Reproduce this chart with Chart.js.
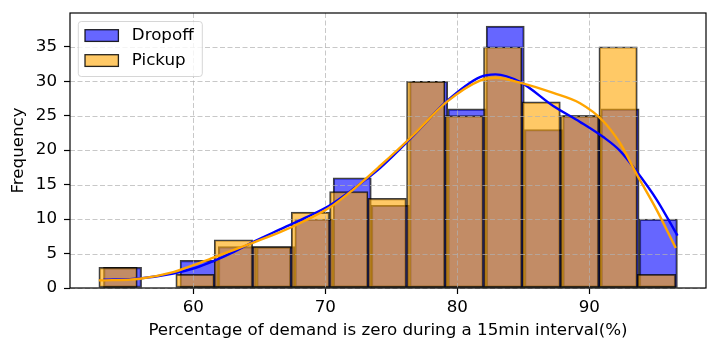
<!DOCTYPE html>
<html>
<head>
<meta charset="utf-8">
<script src="https://cdn.jsdelivr.net/npm/chart.js@4.4.1/dist/chart.umd.min.js"></script>
<style>
  body { margin: 0; background: #fff; }
  canvas { display: block; }
</style>
</head>
<body>
<canvas id="myChart" width="718" height="353"></canvas>
<script>
// histogram bin centres (each series has its own bins)
var dropoffBins = [54.64, 57.54, 60.44, 63.34, 66.24, 69.14, 72.04, 74.93, 77.83, 80.73, 83.63, 86.53, 89.43, 92.33, 95.23];
var pickupBins = [54.30, 57.21, 60.13, 63.04, 65.95, 68.87, 71.78, 74.69, 77.61, 80.52, 83.44, 86.35, 89.26, 92.18, 95.09];

var dropoffCounts = [3, 0, 4, 6, 6, 10, 16, 12, 30, 26, 38, 23, 25, 26, 10];
var pickupCounts = [3, 0, 2, 7, 6, 11, 14, 13, 30, 25, 35, 27, 25, 35, 2];

// kde curves
var dropoffKdeX = [53.19, 55.96, 58.48, 60.13, 61.52, 63.03, 64.55, 66.57, 68.5, 70.36, 72.0, 74.14, 76.67, 79.2, 81.72, 82.9, 84.75, 87.27, 89.3, 91.06, 92.33, 93.59, 95.11, 96.68];
var dropoffKde = [1.2, 1.4, 2.1, 2.9, 3.9, 5.2, 6.7, 8.5, 10.2, 12.0, 14.2, 17.4, 22.1, 27.1, 30.6, 31.0, 29.9, 26.4, 24.1, 21.9, 19.9, 16.9, 12.8, 7.6];
var pickupKdeX = [52.84, 55.96, 58.48, 60.13, 61.52, 63.03, 64.55, 66.57, 68.5, 70.36, 72.0, 74.14, 76.67, 79.2, 81.72, 82.9, 84.75, 87.27, 89.3, 91.06, 92.33, 93.59, 95.11, 96.55];
var pickupKde = [1.1, 1.35, 2.3, 3.4, 4.4, 5.5, 6.6, 8.1, 9.8, 11.7, 14.1, 17.7, 22.2, 27.0, 30.1, 30.5, 29.8, 28.3, 26.8, 24.2, 21.0, 16.5, 11.3, 5.8];

var xTicks = [60, 70, 80, 90];
var yTicks = [0, 5, 10, 15, 20, 25, 30, 35];

var seriesNames = ["Dropoff", "Pickup"];
var seriesFill = ["rgba(0, 0, 255, 0.6)", "rgba(255, 165, 0, 0.6)"];
var seriesLine = ["#0000ff", "#ffa500"];

var FONT = { family: "'DejaVu Sans', sans-serif", size: 16.7 };

function points(xs, ys) {
  return xs.map((x, i) => ({ x: x, y: ys[i] }));
}

// grid sits above the bars but below the kde lines, like matplotlib
var gridOverBars = {
  id: "gridOverBars",
  beforeDatasetDraw(chart, args) {
    if (args.index !== 2) return;
    var ctx = chart.ctx, a = chart.chartArea;
    var x = chart.scales.x, y = chart.scales.y;
    ctx.save();
    ctx.strokeStyle = "rgba(176, 176, 176, 0.7)";
    ctx.lineWidth = 1;
    ctx.setLineDash([5, 2.5]);
    ctx.beginPath();
    xTicks.forEach(v => {
      var px = Math.round(x.getPixelForValue(v)) + 0.5;
      ctx.moveTo(px, a.top);
      ctx.lineTo(px, a.bottom);
    });
    yTicks.forEach(v => {
      var py = Math.round(y.getPixelForValue(v)) + 0.5;
      ctx.moveTo(a.left, py);
      ctx.lineTo(a.right, py);
    });
    ctx.stroke();
    ctx.restore();
  },
  afterDatasetsDraw(chart) {
    var ctx = chart.ctx, a = chart.chartArea;
    ctx.save();
    ctx.strokeStyle = "#000";
    ctx.lineWidth = 1.2;
    ctx.strokeRect(a.left, a.top, a.right - a.left, a.bottom - a.top);
    ctx.restore();
  },
  afterDraw(chart) {
    var ctx = chart.ctx, a = chart.chartArea;
    var bx = a.left + 8.3, by = a.top + 8.5, bw = 124, bh = 55;
    ctx.save();
    ctx.beginPath();
    ctx.roundRect(bx, by, bw, bh, 3);
    ctx.fillStyle = "rgba(255, 255, 255, 0.8)";
    ctx.fill();
    ctx.strokeStyle = "rgba(204, 204, 204, 0.8)";
    ctx.lineWidth = 1;
    ctx.stroke();
    ctx.font = FONT.size + "px " + FONT.family;
    ctx.textBaseline = "middle";
    seriesNames.forEach((name, i) => {
      var cy = by + 14 + i * 25;
      ctx.fillStyle = seriesFill[i];
      ctx.fillRect(bx + 6.7, cy - 5.8, 33.4, 11.7);
      ctx.strokeStyle = "rgba(0, 0, 0, 0.85)";
      ctx.lineWidth = 1.3;
      ctx.strokeRect(bx + 6.7, cy - 5.8, 33.4, 11.7);
      ctx.fillStyle = "#000";
      ctx.fillText(name, bx + 53.5, cy);
    });
    ctx.restore();
  }
};

document.addEventListener("DOMContentLoaded", function() {
  var ctx = document.getElementById("myChart");

  var myChart = new Chart(ctx, {
    type: "bar",
    data: {
      datasets: [
        {
          label: seriesNames[0],
          data: points(dropoffBins, dropoffCounts),
          xAxisID: "x",
          backgroundColor: seriesFill[0],
          borderColor: "rgba(0, 0, 0, 0.75)",
          borderWidth: 1.5,
          borderSkipped: false,
          barPercentage: 1,
          categoryPercentage: 1,
          grouped: false,
          order: 4
        },
        {
          label: seriesNames[1],
          data: points(pickupBins, pickupCounts),
          xAxisID: "x2",
          backgroundColor: seriesFill[1],
          borderColor: "rgba(0, 0, 0, 0.75)",
          borderWidth: 1.5,
          borderSkipped: false,
          barPercentage: 1,
          categoryPercentage: 1,
          grouped: false,
          order: 3
        },
        {
          type: "line",
          label: seriesNames[0] + " kde",
          data: points(dropoffKdeX, dropoffKde),
          xAxisID: "x",
          borderColor: seriesLine[0],
          borderWidth: 2.4,
          pointRadius: 0,
          fill: false,
          cubicInterpolationMode: "monotone",
          order: 2
        },
        {
          type: "line",
          label: seriesNames[1] + " kde",
          data: points(pickupKdeX, pickupKde),
          xAxisID: "x",
          borderColor: seriesLine[1],
          borderWidth: 2.4,
          pointRadius: 0,
          fill: false,
          cubicInterpolationMode: "monotone",
          order: 1
        }
      ]
    },
    options: {
      responsive: false,
      animation: false,
      layout: { padding: { top: 13, right: 12, left: 0, bottom: 0 } },
      plugins: {
        legend: { display: false },
        tooltip: { enabled: false }
      },
      scales: {
        x: {
          type: "linear",
          min: 50.66,
          max: 98.84,
          offset: false,
          afterBuildTicks: s => { s.ticks = xTicks.map(v => ({ value: v })); },
          afterFit: s => { s.height = 65; s.paddingLeft = 0; s.paddingRight = 0; },
          grid: { offset: false, drawOnChartArea: false, tickLength: 6, tickColor: "#000", tickWidth: 1.2 },
          border: { display: false },
          ticks: { padding: 4, color: "#000", font: FONT, maxRotation: 0 },
          title: {
            display: true,
            text: "Percentage of demand is zero during a 15min interval(%)",
            color: "#000",
            font: FONT,
            padding: { top: 0, bottom: 12.5 }
          }
        },
        x2: {
          type: "linear",
          min: 50.66,
          max: 98.84,
          offset: false,
          display: false
        },
        y: {
          min: 0,
          max: 39.9,
          afterBuildTicks: s => { s.ticks = yTicks.map(v => ({ value: v })); },
          afterFit: s => { s.width = 70; s.paddingTop = 0; s.paddingBottom = 0; },
          grid: { drawOnChartArea: false, tickLength: 6, tickColor: "#000", tickWidth: 1.2 },
          border: { display: false },
          ticks: { padding: 7, color: "#000", font: FONT },
          title: {
            display: true,
            text: "Frequency",
            color: "#000",
            font: FONT,
            padding: { top: 9, bottom: 0 }
          }
        }
      }
    },
    plugins: [gridOverBars]
  });
});
</script>
</body>
</html>
